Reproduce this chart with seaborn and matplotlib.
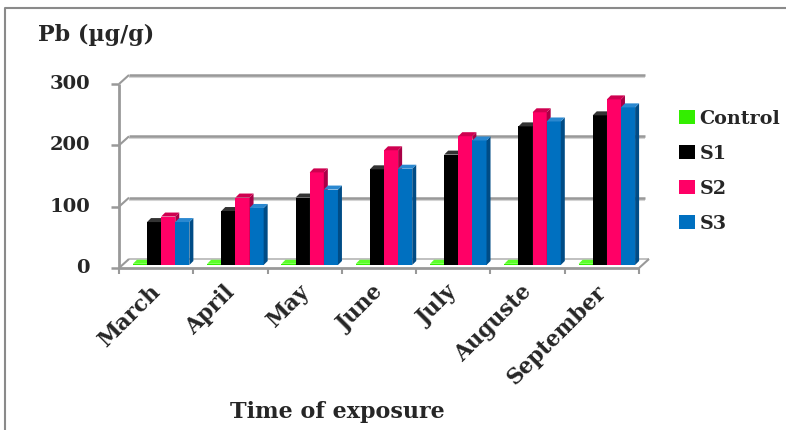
import matplotlib
matplotlib.use("Agg")
import matplotlib.pyplot as plt
import pandas as pd
import seaborn as sns
from matplotlib.patches import Polygon, Patch
from matplotlib.lines import Line2D
from matplotlib.transforms import IdentityTransform, ScaledTranslation

# Pb content (µg/g) per month of exposure
months = ["March", "April", "May", "June", "July", "Auguste", "September"]
series = ["Control", "S1", "S2", "S3"]
control = [2, 2, 2, 2, 2, 2, 2]
s1 = [70, 88, 110, 156, 180, 226, 244]
s2 = [79, 110, 151, 187, 210, 249, 270]
s3 = [70, 93, 123, 157, 203, 234, 257]
y_ticks = [0, 100, 200, 300]

face = {"Control": "#33ee00", "S1": "#000000", "S2": "#ff0066", "S3": "#0070c0"}
side = {"Control": "#209a00", "S1": "#1c1c1c", "S2": "#a80046", "S3": "#004c86"}
top = {"Control": "#5cff2a", "S1": "#333333", "S2": "#cf0050", "S3": "#2a88d0"}

df = pd.DataFrame({
    "month": months * 4,
    "series": [s for s in series for _ in months],
    "value": control + s1 + s2 + s3,
})

sns.set_style("white")
plt.rcParams["font.family"] = ["DejaVu Serif"]
plt.rcParams["font.weight"] = "bold"

W, H = 786, 430
FS_NUM = 14
FS_TXT = 15.5
fig = plt.figure(figsize=(W / 100, H / 100), dpi=100)
ax = fig.add_axes([119 / W, (H - 268) / H, 520 / W, 184 / H])

sns.barplot(data=df, x="month", y="value", hue="series", order=months,
            hue_order=series, palette=face, width=0.76, saturation=1,
            legend=False, ax=ax)
ax.set_xlim(-0.5, len(months) - 0.5)
ax.set_ylim(0, 300)
ax.axis("off")

ident = IdentityTransform()
grey = "#999999"
light = "#d4d4d4"
DX, DY = 10, 9          # depth of the back wall, pixels
BX, BY = 5, 3           # bars stand at mid depth
D = 4                   # bar depth, pixels


def px(x, y):
    return ax.transData.transform((x, y))


def seg(xs, ys, color=grey, lw=1.5, z=1):
    ax.add_line(Line2D(xs, ys, transform=ident, color=color, lw=lw,
                       zorder=z, clip_on=False, solid_capstyle="butt"))


x_left, y0 = px(-0.5, 0)
x_right, _ = px(len(months) - 0.5, 0)

# floor
floor = Polygon([(x_left, y0), (x_right, y0), (x_right + DX, y0 + DY),
                 (x_left + DX, y0 + DY)], closed=True, transform=ident,
                facecolor="white", edgecolor="none", zorder=0.5, clip_on=False)
ax.add_patch(floor)
seg([x_left + DX, x_right + DX], [y0 + DY, y0 + DY], color="#b5b5b5", lw=1.2)
seg([x_right, x_right + DX], [y0, y0 + DY])
seg([x_left, x_right], [y0, y0], lw=2, z=6)

# back wall gridlines with their diagonals to the front axis
for v in y_ticks:
    _, yv = px(-0.5, v)
    if v > 0:
        seg([x_left + DX, x_right + 6], [yv + DY - 2, yv + DY - 2], color=light, lw=1.5)
        seg([x_left + DX, x_right + 6], [yv + DY, yv + DY], lw=1.8)
    seg([x_left, x_left + DX], [yv, yv + DY], lw=1.5)
    seg([x_left - 8, x_left], [yv, yv], lw=1.8)
    ax.annotate(str(v), xy=(-0.5, v), xytext=(-29, 0), textcoords="offset pixels",
                ha="right", va="center", fontsize=FS_NUM, fontweight="bold",
                annotation_clip=False)

_, ytop = px(-0.5, 300)
seg([x_left, x_left], [y0, ytop], lw=2, z=6)

# category ticks on the floor edge
for k in range(len(months) + 1):
    xk, _ = px(k - 0.5, 0)
    seg([xk, xk], [y0, y0 - 6], lw=1.5, z=6)

# give each bar a side and a top face
shift = ScaledTranslation(BX / 100, BY / 100, fig.dpi_scale_trans)
for hi, cont in enumerate(ax.containers):
    name = series[hi]
    for bar in cont:
        (x0, yb), (x1, yt) = px(bar.get_x(), 0), px(bar.get_x() + bar.get_width(), bar.get_height())
        x0, x1, yb, yt = x0 + BX, x1 + BX, yb + BY, yt + BY
        bar.set_transform(ax.transData + shift)
        bar.set_clip_on(False)
        bar.set_zorder(2 + hi)
        bar.set_edgecolor("none")
        ax.add_patch(Polygon([(x1, yb), (x1 + D, yb + D), (x1 + D, yt + D), (x1, yt)],
                             closed=True, transform=ident, facecolor=side[name],
                             edgecolor="none", zorder=2 + hi, clip_on=False))
        ax.add_patch(Polygon([(x0, yt), (x1, yt), (x1 + D, yt + D), (x0 + D, yt + D)],
                             closed=True, transform=ident, facecolor=top[name],
                             edgecolor="none", zorder=2 + hi, clip_on=False))

# month labels
for i, m in enumerate(months):
    ax.annotate(m, xy=(i, 0), xytext=(-7, -13), textcoords="offset pixels",
                rotation=45, ha="right", va="top", rotation_mode="anchor",
                fontsize=FS_TXT, fontweight="bold", annotation_clip=False)

fig.text(337 / W, 1 - 412 / H, "Time of exposure", ha="center", va="center",
         fontsize=FS_TXT + 0.5, fontweight="bold")
fig.text(38 / W, 1 - 35 / H, "Pb (µg/g)", ha="left", va="center",
         fontsize=16, fontweight="bold")

handles = [Patch(facecolor=face[s], edgecolor="none") for s in series]
fig.legend(handles, series, loc="upper left", bbox_to_anchor=(679 / W, 1 - 110 / H),
           frameon=False, handlelength=0.85, handleheight=0.75,
           handletextpad=0.22, labelspacing=0.88, borderaxespad=0, borderpad=0,
           prop={"weight": "bold", "size": 13.8})

# outer frame
fig.add_artist(Line2D([4.5 / W, 4.5 / W, 1.0], [0.0, 1 - 8 / H, 1 - 8 / H],
                      transform=fig.transFigure, color="#8a8a8a", lw=1.5))

fig.savefig("out.png", dpi=100)
